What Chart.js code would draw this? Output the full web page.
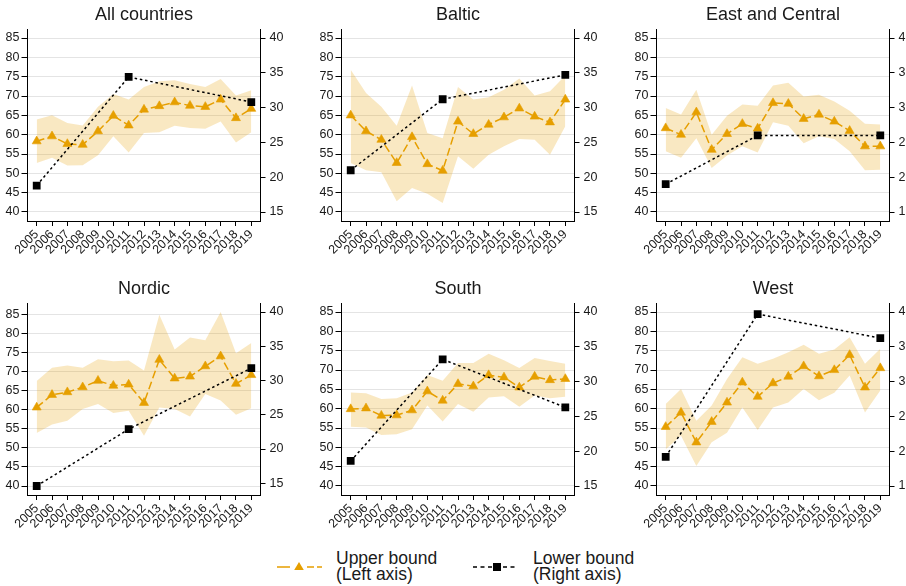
<!DOCTYPE html>
<html><head><meta charset="utf-8">
<script src="https://cdn.jsdelivr.net/npm/chart.js@4"></script>
<style>
html,body{margin:0;padding:0;background:#fff;overflow:hidden;width:906px;height:586px;}
body{position:relative;font-family:'Liberation Sans',Arial,Helvetica,sans-serif;}
canvas{position:absolute;}
.leg{position:absolute;font-size:17.5px;line-height:16px;color:#1a1a1a;white-space:nowrap;}
svg{position:absolute;}
</style></head><body>
<svg style="left:272px;top:557px" width="56" height="20">
  <line x1="5" y1="10" x2="50" y2="10" stroke="#E69F00" stroke-width="1.6" stroke-dasharray="13,17,7,3,5,100"/>
  <polygon points="27,5 31.8,13 22.2,13" fill="#E69F00"/>
</svg>
<div class="leg" style="left:336px;top:550px">Upper bound<br>(Left axis)</div>
<svg style="left:468px;top:557px" width="56" height="20">
  <line x1="5" y1="10" x2="49" y2="10" stroke="#000" stroke-width="1.6" stroke-dasharray="4,3.5"/>
  <rect x="25" y="6" width="8" height="8" fill="#000"/>
</svg>
<div class="leg" style="left:533px;top:550px">Lower bound<br>(Right axis)</div>
<script>
const years = [2005,2006,2007,2008,2009,2010,2011,2012,2013,2014,2015,2016,2017,2018,2019];
const lowerYears = [2005, 2011, 2019];
const leftTicks = [40,45,50,55,60,65,70,75,80,85];
const rightTicks = [15,20,25,30,35,40];
const panelTitles = ['All countries','Baltic','East and Central','Nordic','South','West'];

const upperAll   = [58.3,59.6,57.6,57.4,60.9,64.9,62.4,66.5,67.4,68.4,67.5,67.2,69.1,64.3,66.7];
const ciHighAll  = [63.9,65.0,63.0,62.4,67.2,70.5,69.1,72.3,73.8,74.1,73.1,72.3,74.4,70.1,71.5];
const ciLowAll   = [52.7,54.0,52.0,52.1,54.7,59.6,55.4,60.4,60.6,62.3,61.7,61.5,63.4,58.0,60.6];
const lowerAll   = [18.8,34.4,30.8];

const upperBaltic  = [65.0,60.9,58.7,52.7,59.4,52.4,50.7,63.4,60.2,62.6,64.5,66.8,64.7,63.2,69.1];
const ciHighBaltic = [76.8,70.8,67.2,62.3,72.7,60.4,59.1,72.3,69.1,69.7,71.6,74.5,70.1,71.2,75.3];
const ciLowBaltic  = [52.7,50.8,50.3,42.8,46.2,44.7,42.3,54.4,51.2,54.8,57.0,58.9,58.7,54.8,62.2];
const lowerBaltic  = [21.0,31.2,34.7];

const upperEast  = [61.7,60.0,65.8,56.1,60.2,62.8,61.6,68.2,68.0,64.1,65.2,63.4,61.0,57.0,57.0];
const ciHighEast = [66.9,65.2,71.6,60.0,64.9,67.8,67.5,72.7,73.4,69.9,70.3,68.6,66.2,62.8,62.6];
const ciLowEast  = [55.7,54.0,59.1,51.4,54.6,57.0,55.4,63.2,62.3,57.8,59.6,58.9,55.7,50.8,50.9];
const lowerEast  = [19.0,26.0,26.0];

const upperNordic  = [60.6,63.9,64.6,65.9,67.6,66.3,66.6,61.8,73.1,68.2,68.7,71.4,74.0,66.8,69.1];
const ciHighNordic = [67.5,71.0,71.6,71.0,73.2,72.7,72.9,70.3,84.9,75.8,78.9,78.2,85.6,74.8,77.5];
const ciLowNordic  = [53.9,56.1,57.1,60.2,61.5,59.1,59.7,53.2,60.6,60.2,58.2,64.1,62.4,58.7,60.4];
const lowerNordic  = [14.6,22.9,31.8];

const upperSouth  = [59.9,60.1,58.2,58.3,59.6,64.5,62.1,66.4,65.8,68.7,68.1,65.5,68.3,67.4,67.7];
const ciHighSouth = [64.2,64.0,62.5,62.7,64.2,68.7,67.2,71.8,71.8,74.2,72.5,70.5,73.1,72.3,71.6];
const ciLowSouth  = [55.3,55.1,53.2,53.4,54.7,60.8,56.7,61.2,59.2,62.9,63.2,60.5,63.4,62.7,63.1];
const lowerSouth  = [18.6,33.2,26.3];

const upperWest  = [55.3,59.0,51.3,56.6,61.6,66.8,63.1,66.6,68.3,71.0,68.4,70.0,73.9,65.5,70.5];
const ciHighWest = [61.2,65.1,56.9,60.8,67.7,73.3,71.6,72.9,74.6,76.5,74.2,75.3,78.5,71.6,75.5];
const ciLowWest  = [49.5,53.0,45.2,51.3,53.8,60.3,54.5,60.3,61.6,65.1,62.2,64.1,68.6,59.0,64.7];
const lowerWest  = [19.2,39.7,36.25];

const panels = [
  {title: panelTitles[0], upper: upperAll,    hi: ciHighAll,    lo: ciLowAll,    lower: lowerAll},
  {title: panelTitles[1], upper: upperBaltic, hi: ciHighBaltic, lo: ciLowBaltic, lower: lowerBaltic},
  {title: panelTitles[2], upper: upperEast,   hi: ciHighEast,   lo: ciLowEast,   lower: lowerEast},
  {title: panelTitles[3], upper: upperNordic, hi: ciHighNordic, lo: ciLowNordic, lower: lowerNordic},
  {title: panelTitles[4], upper: upperSouth,  hi: ciHighSouth,  lo: ciLowSouth,  lower: lowerSouth},
  {title: panelTitles[5], upper: upperWest,   hi: ciHighWest,   lo: ciLowWest,   lower: lowerWest}
];

const FAMILY = "'Liberation Sans', Arial, Helvetica, sans-serif";
const ORANGE = '#E69F00';
const TXT = '#1a1a1a';
Chart.defaults.font.family = FAMILY;

const colLeft = [0, 314, 629];
const rowTop = [0, 274];

function pts(xs, ys) { return xs.map((x, k) => ({x: x, y: ys[k]})); }

panels.forEach((p, i) => {
  const c = document.createElement('canvas');
  c.width = 300; c.height = 270;
  c.style.width = '300px'; c.style.height = '270px';
  c.style.left = colLeft[i % 3] + 'px';
  c.style.top = rowTop[Math.floor(i / 3)] + 'px';
  document.body.appendChild(c);

  const lAll = p.upper.concat(p.hi, p.lo);
  const lMin = Math.min(40, ...lAll), lMax = Math.max(85, ...lAll);
  const rMin = Math.min(15, ...p.lower), rMax = Math.max(40, ...p.lower);
  const m = 9 / 174;
  const lPad = (lMax - lMin) * m, rPad = (rMax - rMin) * m;
  const tickFont = {size: 12.5, family: FAMILY};

  new Chart(c, {
    type: 'line',
    data: {
      datasets: [
        {label: 'Lower bound', data: pts(lowerYears, p.lower), yAxisID: 'yR',
         borderColor: '#000', borderWidth: 1.5, borderDash: [2.5, 2.8],
         pointStyle: 'rect', pointRadius: 5.5, pointBackgroundColor: '#000',
         pointBorderColor: '#000', pointBorderWidth: 0, fill: false, order: 0},
        {label: 'Upper bound', data: pts(years, p.upper), yAxisID: 'yL',
         borderColor: ORANGE, borderWidth: 1.5, borderDash: [8, 3.5],
         pointStyle: 'triangle', pointRadius: 5.2, pointBackgroundColor: ORANGE,
         pointBorderColor: ORANGE, pointBorderWidth: 0.6, fill: false, order: 1},
        {label: 'CI high', data: pts(years, p.hi), yAxisID: 'yL',
         borderWidth: 0, pointRadius: 0, fill: '+1',
         backgroundColor: 'rgba(230,159,0,0.24)', order: 2},
        {label: 'CI low', data: pts(years, p.lo), yAxisID: 'yL',
         borderWidth: 0, pointRadius: 0, fill: false, order: 3}
      ]
    },
    options: {
      responsive: false, animation: false, devicePixelRatio: 1,
      layout: {padding: 0},
      plugins: {
        legend: {display: false}, tooltip: {enabled: false},
        title: {display: true, text: p.title, fullSize: false, color: TXT,
                font: {size: 18, weight: 'normal', family: FAMILY},
                padding: {top: 4.5, bottom: 2.9}}
      },
      scales: {
        x: {type: 'linear', min: 2004.4, max: 2019.6,
            afterBuildTicks: s => { s.ticks = years.map(v => ({value: v})); },
            afterFit: s => { s.height = 49; },
            ticks: {autoSkip: false, minRotation: 45, maxRotation: 45, padding: 1,
                    color: TXT, font: tickFont, callback: v => String(v)},
            grid: {drawOnChartArea: false, tickLength: 5, tickColor: '#000'},
            border: {color: '#000', width: 1}},
        yL: {type: 'linear', position: 'left', min: lMin - lPad, max: lMax + lPad,
             afterBuildTicks: s => { s.ticks = leftTicks.map(v => ({value: v})); },
             afterFit: s => { s.width = 27.5; },
             ticks: {padding: 2, color: TXT, font: tickFont},
             grid: {color: '#e4e4e4', lineWidth: 1, tickLength: 6, tickColor: '#000'},
             border: {color: '#000', width: 1}},
        yR: {type: 'linear', position: 'right', min: rMin - rPad, max: rMax + rPad,
             afterBuildTicks: s => { s.ticks = rightTicks.map(v => ({value: v})); },
             afterFit: s => { s.width = 39.5; },
             ticks: {padding: 4, color: TXT, font: tickFont},
             grid: {drawOnChartArea: false, tickLength: 5, tickColor: '#000'},
             border: {color: '#000', width: 1}}
      }
    }
  });
});
</script>
</body></html>
